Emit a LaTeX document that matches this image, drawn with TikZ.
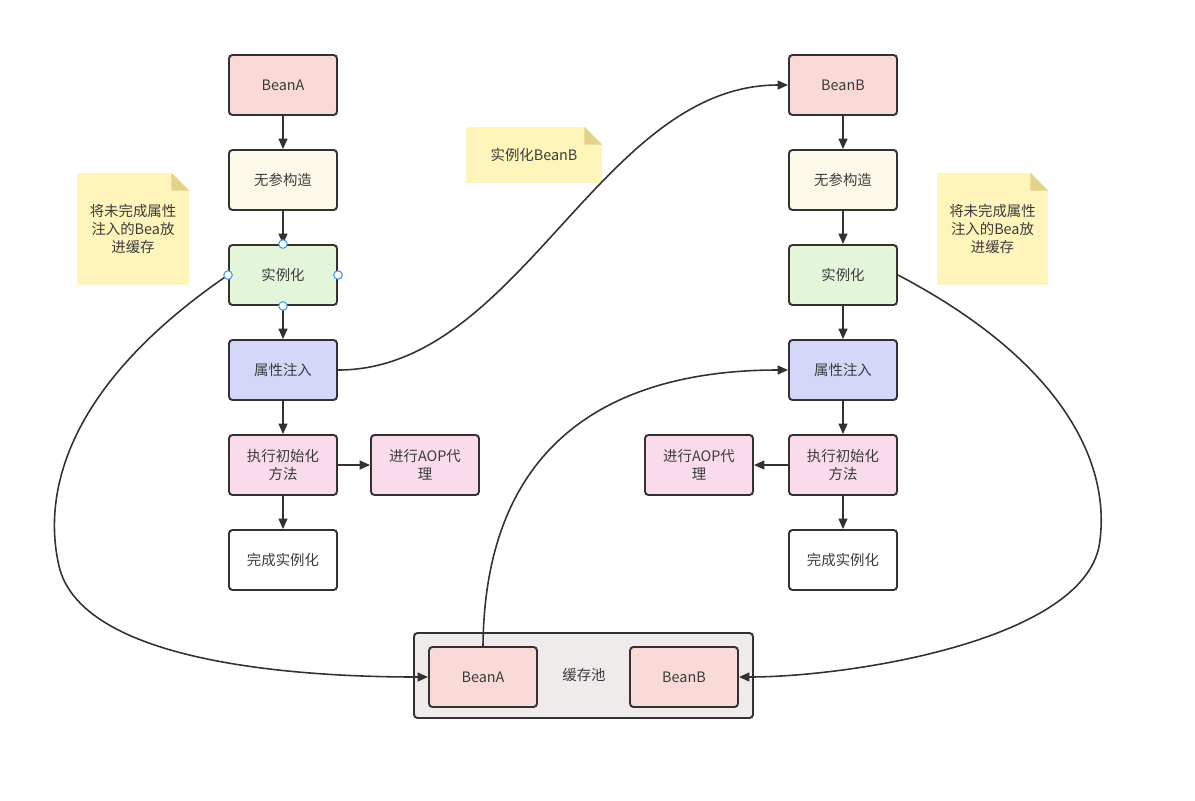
\documentclass[tikz,border=0pt]{standalone}
\usepackage{fontspec}
\setmainfont{Noto Sans CJK SC}
\usetikzlibrary{arrows.meta,positioning}
\definecolor{ink}{RGB}{50,50,50}
\definecolor{txt}{RGB}{60,60,60}
\definecolor{beanpink}{RGB}{250,218,215}
\definecolor{cream}{RGB}{252,249,233}
\definecolor{mint}{RGB}{228,246,218}
\definecolor{lilac}{RGB}{213,215,249}
\definecolor{rose}{RGB}{249,219,236}
\definecolor{poolgrey}{RGB}{239,235,234}
\definecolor{memo}{RGB}{255,244,186}
\definecolor{memofold}{RGB}{228,210,140}
\definecolor{handleblue}{RGB}{70,150,235}
\tikzset{
  >={Triangle[length=2.1mm,width=1.8mm]},
  box/.style={draw=ink,fill=#1,rounded corners=2pt,line width=1.1pt,
    minimum width=21.6mm,minimum height=12mm,align=center,text=txt,
    font=\fontsize{8.2}{10}\selectfont},
  box/.default=white,
  pool/.style={draw=ink,fill=poolgrey,rounded corners=2pt,line width=1.1pt,
    minimum width=67.8mm,minimum height=17mm},
  memo/.style={fill=memo,align=center,text=txt,inner sep=0pt,
    font=\fontsize{8.2}{10}\selectfont},
  flow/.style={->,line width=0.9pt,draw=ink},
  handle/.style={draw=handleblue,fill=white,line width=0.6pt},
}
\begin{document}
\begin{tikzpicture}[x=0.2mm,y=-0.2mm]
  \useasboundingbox (0,0) rectangle (1195,800);
  % the two bean columns
  \foreach \c/\x/\a in {A/283/425,B/843/699}{
    \node[box=beanpink] (\c1) at (\x,85) {Bean\c};
    \node[box=cream] (\c2) at (\x,180) {无参构造};
    \node[box=mint] (\c3) at (\x,275) {实例化};
    \node[box=lilac] (\c4) at (\x,370) {属性注入};
    \node[box=rose] (\c5) at (\x,465) {执行初始化\\方法};
    \node[box] (\c6) at (\x,560) {完成实例化};
    \node[box=rose] (\c7) at (\a,465) {进行AOP代\\理};
    \foreach \i/\j in {1/2,2/3,3/4,4/5,5/6} \draw[flow] (\c\i) -- (\c\j);
    \draw[flow] (\c5) -- (\c7);
  }
  % cache pool
  \node[pool] (pool) at (583.5,675.5) {};
  \node[box=beanpink] (poolA) at (483,677) {BeanA};
  \node[box=beanpink] (poolB) at (684,677) {BeanB};
  \node[text=txt,font=\fontsize{8.2}{10}\selectfont] (poolname) at (584,675) {缓存池};
  % notes
  \foreach \n/\x/\y/\w/\h/\t in {m1/133/229/112/112/{将未完成属性\\注入的Bea放\\进缓存},
                                 m2/992.5/229/111/112/{将未完成属性\\注入的Bea放\\进缓存},
                                 m3/534/155/136/56/{实例化BeanB}}{
    \node[memo,minimum width=\w*0.2mm,minimum height=\h*0.2mm] (\n) at (\x,\y) {\t};
    \fill[white] ([xshift=-3.6mm]\n.north east) -- (\n.north east) -- ([yshift=-3.6mm]\n.north east) -- cycle;
    \fill[memofold] ([xshift=-3.6mm]\n.north east) -- ([xshift=-3.6mm,yshift=-3.6mm]\n.north east) -- ([yshift=-3.6mm]\n.north east) -- cycle;
  }
  % curved links
  \draw[flow] (A3.west) .. controls (60,390) and (42,500) .. (60,570)
    .. controls (90,670) and (330,677) .. (poolA.west);
  \draw[flow] (A4.east) .. controls (520,370) and (600,85) .. (B1.west);
  \draw[flow] (B3.east) .. controls (1060,360) and (1110,460) .. (1100,540)
    .. controls (1090,640) and (850,677) .. (poolB.east);
  \draw[flow] (poolA.north) .. controls (485,420) and (640,370) .. (B4.west);
  % selection handles
  \foreach \p in {north,west,east,south} \draw[handle] (A3.\p) circle[radius=0.85mm];
\end{tikzpicture}
\end{document}
